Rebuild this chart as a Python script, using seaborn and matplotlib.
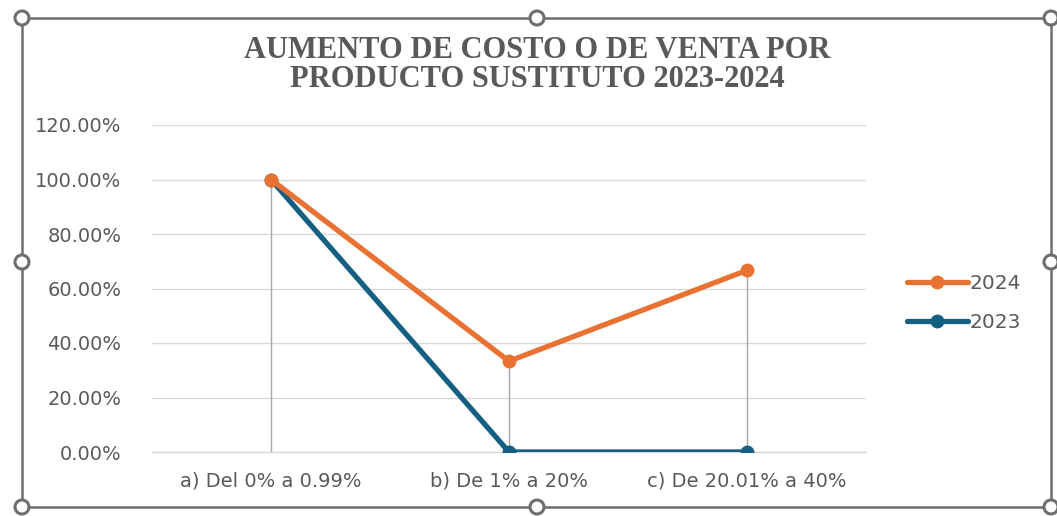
import matplotlib
matplotlib.use("Agg")
import matplotlib.pyplot as plt
import matplotlib.patches as mpatches
from matplotlib.lines import Line2D
import seaborn as sns
import pandas as pd
import numpy as np

categories = ["a) Del 0% a 0.99%", "b) De 1% a 20%", "c) De 20.01% a 40%"]
values_2024 = [1.00, 0.3333, 0.6667]
values_2023 = [1.00, 0.00, 0.00]
series_names = ["2024", "2023"]
title = "AUMENTO DE COSTO O DE VENTA POR\nPRODUCTO SUSTITUTO 2023-2024"
yticks = [0.0, 0.2, 0.4, 0.6, 0.8, 1.0, 1.2]

colors = {"2024": "#E97132", "2023": "#156082"}
text_gray = "#595959"

sns.set_theme(style="white")
plt.rcParams["font.family"] = ["DejaVu Sans"]

df = pd.DataFrame({
    "cat": categories * 2,
    "val": values_2023 + values_2024,
    "serie": ["2023"] * 3 + ["2024"] * 3,
})

fig = plt.figure(figsize=(10.57, 5.16), dpi=100)
ax = fig.add_axes([152 / 1057, 1 - 452 / 516, 714 / 1057, 327 / 516])

# drop lines
xs = np.arange(len(categories))
tops = np.maximum(values_2024, values_2023)
ax.vlines(xs, 0, tops, color="#a6a6a6", lw=1.0, zorder=2)

for name in ["2023", "2024"]:
    sub = df[df["serie"] == name]
    sns.lineplot(data=sub, x="cat", y="val", ax=ax, color=colors[name], lw=3.8,
                 marker="o", markersize=10, markeredgewidth=0, sort=False,
                 legend=False, zorder=3)

ax.set_xlim(-0.5, 2.5)
ax.set_ylim(0, 1.2)
ax.set_yticks(yticks)
ax.set_yticklabels([f"{v*100:.2f}%" for v in yticks])
ax.set_xlabel("")
ax.set_ylabel("")
ax.grid(axis="y", color="#d9d9d9", lw=1.0)
ax.grid(axis="x", visible=False)
for s in ["top", "right", "left"]:
    ax.spines[s].set_visible(False)
ax.spines["bottom"].set_color("#d9d9d9")
ax.spines["bottom"].set_linewidth(1.0)
ax.tick_params(axis="both", length=0, colors=text_gray, labelsize=14)
ax.tick_params(axis="y", pad=22)
ax.tick_params(axis="x", pad=14)

fig.text(537 / 1057, 1 - 65 / 516, title, ha="center", va="center",
         fontsize=22, fontweight="bold", color=text_gray,
         family=["Liberation Serif", "DejaVu Serif"], linespacing=1.0)

handles = [Line2D([0], [0], color=colors[n], lw=3.8, marker="o", markersize=10,
                  markeredgewidth=0) for n in series_names]
leg = fig.legend(handles, series_names, loc="center left",
                 bbox_to_anchor=(889 / 1057, 1 - 303 / 516), frameon=False,
                 fontsize=14.5, labelcolor=text_gray, handlelength=3.0,
                 handletextpad=0.1, labelspacing=0.95)

# chart frame with selection handles
frame = mpatches.Rectangle((22 / 1057, 1 - 507 / 516), (1051 - 22) / 1057,
                           (507 - 18) / 516, transform=fig.transFigure,
                           fill=False, ec="#6e6e6e", lw=1.8, zorder=10)
fig.add_artist(frame)
for (px, py) in [(22, 18), (537, 18), (1051, 18), (22, 262), (1051, 262),
                 (22, 507), (537, 507), (1051, 507)]:
    c = mpatches.Ellipse((px / 1057, 1 - py / 516), 14 / 1057, 14 / 516,
                         transform=fig.transFigure, fc="white", ec="#6e6e6e",
                         lw=2.2, zorder=11)
    fig.add_artist(c)

fig.savefig("out.png", dpi=100)
